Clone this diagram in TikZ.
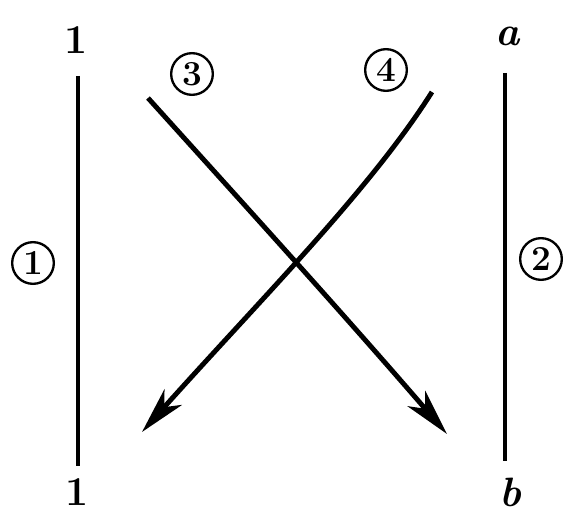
\documentclass[tikz,border=0pt]{standalone}
\usepackage{fontspec}
\usetikzlibrary{arrows.meta}
\tikzset{
  lbl/.style={font=\fontsize{35}{37}\selectfont\bfseries, inner sep=0pt},
  num/.style={circle, draw, line width=2pt, inner sep=1pt, minimum size=1.25cm,
    font=\fontsize{30}{32}\selectfont\bfseries},
  side/.style={line width=3pt},
  cross/.style={line width=4.2pt, -{Stealth[length=1.4cm, width=0.7cm, inset=0.4cm]}}
}
\begin{document}
\begin{tikzpicture}[x=0.03cm, y=-0.03cm]
		\useasboundingbox (0,0) rectangle (563,517);
		% end labels
		\node[lbl] (top1) at (76,40) {1};
		\node[lbl] (bot1) at (77,492) {1};
		\node[lbl] (topa) at (508,36) {\itshape a};
		\node[lbl] (botb) at (510,492) {\itshape b};
		% circled numbers
		\node[num] (n1) at (33,263) {1};
		\node[num] (n2) at (541,259) {2};
		\node[num] (n3) at (192,74) {3};
		\node[num] (n4) at (386,70) {4};
		% ends of the lines
		\coordinate (l1) at (78,76);
		\coordinate (l2) at (78,466);
		\coordinate (r1) at (505,73);
		\coordinate (r2) at (505,461);
		\coordinate (s3) at (148,98);
		\coordinate (e3) at (447,434);
		\coordinate (s4) at (432,92);
		\coordinate (e4) at (142,432);
		\draw[side] (l1)--(l2) ;
		\draw[side] (r1)--(r2) ;
		\draw[cross] (s3) .. controls (240,200) and (340,310) .. (e3) ;
		\draw[cross] (s4) .. controls (370,190) and (260,300) .. (e4) ;
	\end{tikzpicture}
\end{document}
